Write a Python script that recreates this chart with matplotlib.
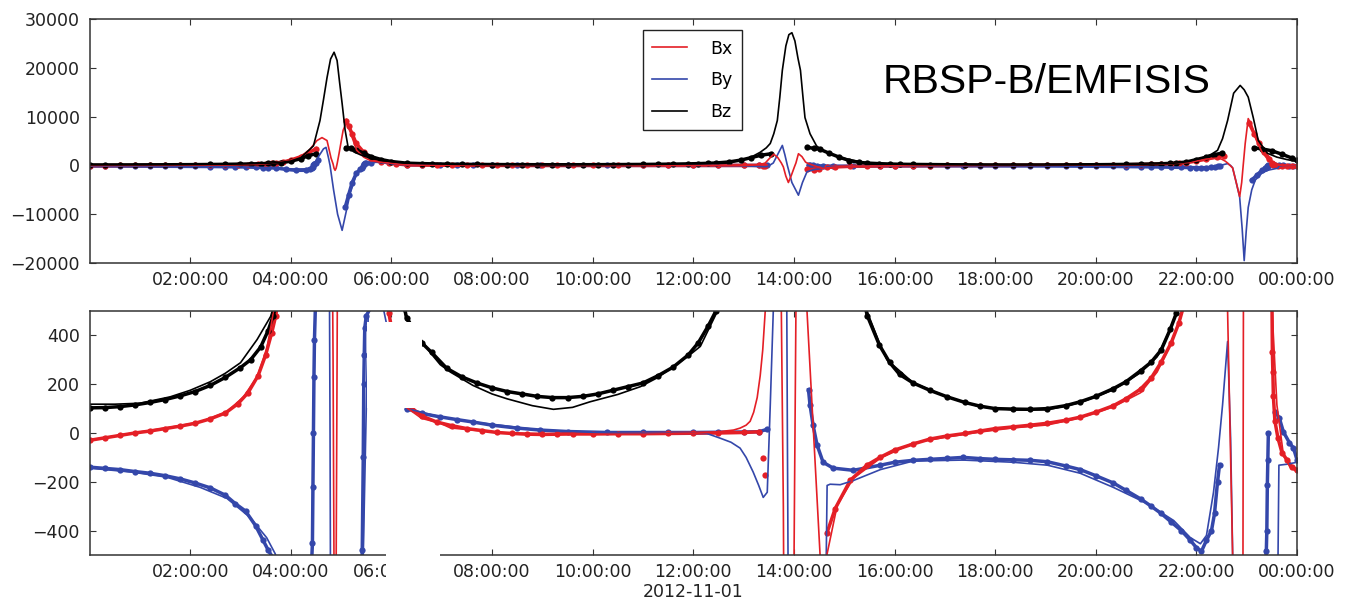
import numpy as np
import matplotlib.pyplot as plt
import matplotlib.dates as mdates
from matplotlib.patches import Rectangle

nan = np.nan

# Model field components (nT), time in hours after 2012-11-01 00:00
t_bx = [0.0, 0.87, 1.53, 2.2, 2.73, 3.06, 3.33, 3.52, 3.62, 3.8, 4.0, 4.2, 4.38, 4.52, 4.62,
        4.72, 4.8, 4.84, 4.86, 4.88, 4.9, 4.92, 4.96, 5.04, 5.12, 5.22, 5.31, 5.45, 5.58, 5.75,
        5.95, 6.1, 6.31, 6.6, 6.97, 7.17, 7.6, 8.3, 9.6, 11.0, 12.0, 12.5, 12.8, 12.93, 13.05,
        13.13, 13.2, 13.27, 13.33, 13.38, 13.43, 13.52, 13.6, 13.68, 13.75, 13.79, 13.84, 13.89,
        13.95, 14.01, 14.04, 14.09, 14.16, 14.23, 14.26, 14.39, 14.52, 14.59, 14.66, 14.86,
        15.18, 15.72, 16.37, 17.05, 17.7, 18.36, 19.04, 19.69, 20.35, 20.89, 21.22, 21.48,
        21.68, 21.85, 22.0, 22.2, 22.4, 22.5, 22.57, 22.62, 22.72, 22.78, 22.86, 22.9, 22.93,
        22.97, 23.03, 23.1, 23.2, 23.3, 23.42, 23.5, 23.6, 23.73, 23.86, 24.0]
bx = [-29, 0, 21, 45, 87, 148, 230, 342, 454, 700, 1100, 1800, 3300, 5100, 5700,
      5100, 1500, 300, -600, -1000, -600, 300, 2500, 7200, 9200, 5700, 3100, 1700, 1000, 700,
      500, 300, 103, 60, 40, 21, 12, 0, -5, -5, -2, 5, 12, 20, 32,
      48, 85, 145, 235, 340, 500, 1500, 2300, 1600, 500, -300, -2200, -3500,
      -2000, -300, 500, 2400, 1800, 700, 500, 0, -500, -620, -495, -297,
      -186, -103, -41, -16, 4, 21, 33, 62, 107, 165, 250, 360,
      470, 600, 900, 1300, 1500, 1300, 900, 500, -500, -3000, -6400, -3500, 0,
      4500, 9600, 8200, 5000, 2800, 1200, 520, 115, -91, -140, -160]

t_by = [0.0, 0.87, 1.53, 2.2, 2.73, 3.19, 3.52, 3.69, 3.9, 4.1, 4.3, 4.42, 4.48, 4.55, 4.65,
        4.7, 4.75, 4.78, 4.85, 4.93, 5.02, 5.1, 5.18, 5.31, 5.44, 5.49, 5.54, 5.7, 5.9, 6.1,
        6.31, 6.97, 7.62, 8.96, 10.29, 12.27, 12.53, 12.75, 12.93, 13.05, 13.19, 13.3, 13.39,
        13.47, 13.53, 13.59, 13.68, 13.77, 13.82, 13.87, 13.96, 14.09, 14.17, 14.26, 14.4,
        14.55, 14.64, 14.66, 14.72, 14.92, 15.18, 15.72, 16.37, 17.37, 18.36, 19.04, 19.69,
        20.35, 21.02, 21.55, 21.88, 22.08, 22.2, 22.34, 22.44, 22.52, 22.62, 22.68, 22.72,
        22.78, 22.86, 22.91, 22.95, 22.99, 23.03, 23.1, 23.17, 23.3, 23.41, 23.62, 23.64,
        23.8, 24.0]
by = [-144, -161, -181, -223, -268, -346, -429, -495, -650, -750, -700, -500, 500, 1800, 3400,
      3700, 1500, 0, -5000, -10000, -13300, -9500, -5700, -1640, -500, 0, 500, 650, 450, 250,
      100, 66, 45, 12, 0, -2, -21, -38, -62, -100, -160, -215, -264,
      -243, 115, 500, 2300, 4100, 2200, 0, -3500, -6100, -3500, -1300, -850,
      -650, -550, -215, -210, -212, -195, -150, -115, -111, -120, -132, -165,
      -223, -289, -359, -429, -454, -420, -243, -60, 115, 375, -21, -491,
      -3000, -6500, -13000, -19500, -13500, -8600, -5000, -3000, -1600, -1000, -560, -132,
      -128, -120]

t_bz = [0.0, 0.5, 1.0, 1.6, 2.0, 2.4, 2.7, 3.0, 3.33, 3.6, 3.8, 4.0, 4.2, 4.45, 4.58, 4.65,
        4.72, 4.79, 4.86, 4.92, 4.97, 5.02, 5.08, 5.14, 5.25, 5.38, 5.6, 5.84, 6.0, 6.25, 6.5,
        6.77, 6.97, 7.17, 7.62, 8.0, 8.3, 8.8, 9.22, 9.6, 9.95, 10.5, 10.95, 11.3, 11.6, 11.9,
        12.14, 12.47, 12.7, 12.93, 13.15, 13.33, 13.45, 13.53, 13.6, 13.67, 13.72, 13.77, 13.84,
        13.9, 13.96, 14.02, 14.08, 14.13, 14.18, 14.22, 14.32, 14.45, 14.6, 14.92, 15.2, 15.46,
        15.71, 15.85, 16.37, 17.05, 17.7, 18.36, 19.04, 19.69, 20.35, 20.89, 21.22, 21.48,
        21.62, 21.85, 22.1, 22.3, 22.42, 22.52, 22.62, 22.74, 22.87, 22.95, 23.03, 23.13,
        23.23, 23.41, 23.6, 23.8, 24.0]
bz = [118, 118, 122, 148, 175, 210, 245, 288, 383, 478, 620, 900, 1600, 4000, 9200, 13500,
      18000, 21800, 23200, 21500, 17000, 12700, 7200, 3700, 2800, 2200, 1400, 1000, 780, 500, 410,
      330, 280, 250, 195, 160, 140, 112, 97, 105, 128, 158, 190, 228, 272, 315,
      355, 495, 650, 1000, 1700, 2700, 3600, 4500, 6500, 9200, 14000, 19500, 24500,
      26800, 27200, 25500, 22000, 19500, 14000, 9800, 6500, 4000, 2900, 1640, 1000, 495,
      363, 300, 206, 148, 107, 95, 95, 124, 177, 247, 313, 425,
      507, 800, 1500, 2300, 3100, 5500, 9200, 14800, 16400, 15500, 14000, 9800,
      5100, 2500, 1700, 1200, 800]

# Measured field (nT); nan marks gaps in the record
t_bx_d = [0.0, 0.3, 0.6, 0.9, 1.2, 1.5, 1.8, 2.1, 2.4, 2.7, 2.95, 3.15, 3.35, 3.5, 3.62, 3.7,
          3.85, 4.0, 4.2, 4.35, 4.5, 4.55, 5.1, 5.15, 5.22, 5.3, 5.45, 5.6, 5.8, 5.95, 6.1,
          6.3, 6.6, 6.9, 7.2, 7.5, 7.8, 8.1, 8.4, 8.7, 9.0, 9.3, 9.6, 10.0, 10.5, 11.0, 11.5,
          12.0, 12.5, 13.0, 13.3, 13.35, 13.39, 13.41, 13.43, 13.45, 14.27, 14.4, 14.5, 14.58,
          14.66, 14.82, 15.12, 15.45, 15.72, 16.0, 16.37, 16.7, 17.05, 17.4, 17.7, 18.0, 18.36,
          18.7, 19.04, 19.4, 19.69, 20.0, 20.35, 20.6, 20.89, 21.1, 21.3, 21.5, 21.65, 21.8,
          22.0, 22.2, 22.4, 22.55, 22.6, 23.05, 23.15, 23.25, 23.35, 23.45, 23.5, 23.51, 23.52,
          23.53, 23.56, 23.62, 23.7, 23.8, 23.9, 24.0]
bx_d = [-30, -20, -10, 0, 8, 18, 28, 40, 58, 82, 120, 165, 235, 320, 410, 480,
        700, 1100, 1800, 2600, 3400, nan, 9200, 8000, 6500, 4500, 2700, 1500, 800, 490, 320,
        120, 70, 45, 30, 18, 10, 2, -2, -5, -6, -5, -4, -4, -3, -3, -2,
        -1, 0, 2, 5, nan, -103, nan, -173, nan, -800, -850, -800, nan,
        -408, -310, -194, -132, -99, -70, -45, -25, -12, -2, 8, 18, 25,
        32, 40, 52, 65, 85, 112, 140, 180, 225, 290, 370, 450, 560,
        900, 1300, 1700, 2000, nan, 8600, 6500, 4500, 2800, 1400, 600, 330, 250,
        150, 50, -20, -80, -110, -140, -150]

t_by_d = [0.0, 0.3, 0.6, 0.9, 1.2, 1.5, 1.8, 2.1, 2.4, 2.7, 2.9, 3.1, 3.3, 3.45, 3.55, 3.7,
          3.9, 4.1, 4.3, 4.38, 4.43, 4.44, 4.45, 4.46, 4.47, 4.5, 4.55, 4.6, 5.08, 5.15, 5.22,
          5.3, 5.38, 5.42, 5.44, 5.45, 5.46, 5.47, 5.5, 5.6, 5.7, 6.3, 6.6, 6.97, 7.3, 7.62,
          8.0, 8.5, 8.96, 9.5, 10.29, 11.0, 11.5, 12.0, 12.5, 13.0, 13.3, 13.47, 13.5, 14.29,
          14.32, 14.38, 14.46, 14.58, 14.78, 15.18, 15.72, 16.0, 16.37, 16.7, 17.05, 17.37, 17.7,
          18.0, 18.36, 18.7, 19.04, 19.4, 19.69, 20.0, 20.35, 20.6, 20.89, 21.1, 21.3, 21.5,
          21.7, 21.88, 22.0, 22.1, 22.2, 22.3, 22.36, 22.42, 22.46, 22.5, 23.1, 23.2, 23.3,
          23.36, 23.39, 23.4, 23.41, 23.42, 23.43, 23.45, 23.57, 23.65, 23.73, 23.85, 23.93, 24.0]
by_d = [-140, -145, -150, -158, -165, -175, -188, -205, -225, -255, -290, -320, -380, -440, -480, -530,
        -800, -1000, -1000, -700, -450, -220, 0, 230, 380, 600, 1200, nan, -8600, -6000, -3500,
        -1640, -800, -480, -100, 200, 320, 430, 480, 520, nan, 100, 80, 66, 55, 45,
        32, 20, 12, 6, 2, 2, 2, 2, 3, 4, 5, 15, nan, 177,
        115, 33, -49, -120, -144, -153, -132, -120, -112, -108, -104, -100, -105,
        -108, -110, -112, -118, -135, -150, -175, -205, -235, -270, -300, -330, -365,
        -400, -440, -470, -485, -440, -400, -330, -200, -130, nan, -3000, -2000, -1000,
        -600, -482, -400, -214, -111, 0, nan, 87, 60, 4, -40, -62, -110]

t_bz_d = [0.0, 0.3, 0.6, 0.9, 1.2, 1.5, 1.8, 2.1, 2.4, 2.7, 3.0, 3.2, 3.4, 3.55, 3.65, 3.8,
          4.0, 4.2, 4.35, 4.5, 4.55, 5.1, 5.2, 5.3, 5.45, 5.6, 5.8, 6.0, 6.3, 6.6, 6.8, 7.1,
          7.4, 7.7, 8.0, 8.3, 8.6, 8.9, 9.2, 9.5, 9.8, 10.1, 10.4, 10.7, 11.0, 11.3, 11.6, 11.9,
          12.1, 12.3, 12.45, 12.7, 12.95, 13.15, 13.35, 13.55, 13.6, 14.27, 14.4, 14.52, 14.7,
          14.9, 15.1, 15.3, 15.46, 15.7, 15.9, 16.1, 16.37, 16.7, 17.05, 17.4, 17.7, 18.0, 18.36,
          18.7, 19.04, 19.4, 19.69, 20.0, 20.35, 20.6, 20.89, 21.1, 21.3, 21.48, 21.6, 21.8,
          22.0, 22.2, 22.35, 22.5, 22.55, 23.15, 23.3, 23.5, 23.7, 23.9, 24.0]
bz_d = [103, 104, 108, 115, 125, 137, 152, 170, 195, 228, 268, 300, 352, 420, 480, 600,
        850, 1400, 2000, 2400, nan, 3600, 3500, 3200, 2500, 1800, 1200, 800, 470, 370, 330, 265,
        230, 205, 185, 170, 160, 150, 145, 145, 150, 160, 175, 190, 205, 235, 270, 320,
        370, 440, 500, 700, 1100, 1600, 2100, 2400, nan, 3700, 3500, 3300, 2500,
        1700, 1000, 620, 480, 360, 290, 240, 205, 175, 148, 125, 110, 100, 98,
        97, 100, 112, 128, 150, 182, 210, 255, 290, 340, 425, 490, 700,
        1200, 1700, 2200, 2500, nan, 3600, 3400, 3000, 2300, 1500, 1100]

day0 = mdates.date2num(np.datetime64('2012-11-01T00:00'))


def hrs(t):
    return day0 + np.asarray(t, dtype=float) / 24.0


red = '#e41f26'
blue = '#3447aa'

fig = plt.figure(figsize=(13.57, 5.99), dpi=100)
ax1 = fig.add_axes([0.0660, 0.5609, 0.8898, 0.4073])
ax2 = fig.add_axes([0.0660, 0.0735, 0.8898, 0.4073])

for ax in (ax1, ax2):
    ax.plot(hrs(t_by_d), by_d, color=blue, lw=2.5, marker='o', ms=4.5, mec='none')
    ax.plot(hrs(t_bx_d), bx_d, color=red, lw=2.5, marker='o', ms=4.5, mec='none')
    ax.plot(hrs(t_bz_d), bz_d, color='black', lw=2.5, marker='o', ms=4.5, mec='none')
    ax.plot(hrs(t_by), by, color=blue, lw=1.2, label='By')
    ax.plot(hrs(t_bx), bx, color=red, lw=1.2, label='Bx')
    ax.plot(hrs(t_bz), bz, color='black', lw=1.2, label='Bz')

    ax.set_xlim(hrs(0), hrs(24))
    ax.set_xticks(hrs(np.arange(2, 25, 2)))
    ax.xaxis.set_major_formatter(mdates.DateFormatter('%H:%M:%S'))
    ax.tick_params(direction='in', top=True, right=True, length=4.5, width=0.8,
                   labelsize=12.5, labelcolor='#222222', color='#333333')
    ax.tick_params(axis='x', pad=6)
    ax.tick_params(axis='y', pad=7)
    for sp in ax.spines.values():
        sp.set_color('#333333')
        sp.set_linewidth(1.1)

ax1.set_ylim(-20000, 30000)
ax1.set_yticks(np.arange(-20000, 30001, 10000))
ax2.set_ylim(-500, 500)
ax2.set_yticks(np.arange(-400, 401, 200))
ax2.set_xlabel('2012-11-01', fontsize=12.5, color='#222222', labelpad=1)

h, l = ax1.get_legend_handles_labels()
order = [1, 0, 2]
leg = ax1.legend([h[i] for i in order], [l[i] for i in order], loc='upper left',
                 bbox_to_anchor=(0.458, 0.955), fontsize=12.5, fancybox=False,
                 edgecolor='#222222', framealpha=1, borderpad=0.55, labelspacing=0.78,
                 handlelength=2.0, handletextpad=1.35, borderaxespad=0)
leg.get_frame().set_linewidth(1.0)

ax1.text(0.657, 0.697, 'RBSP-B/EMFISIS', transform=ax1.transAxes, fontsize=29.5,
         family='Liberation Sans', va='baseline', ha='left')

# blanked patches over the lower panel
fig.patches.append(Rectangle((367 / 1357, 1 - 408 / 599), 55 / 1357, 86 / 599,
                             transform=fig.transFigure, facecolor='white',
                             edgecolor='none', zorder=10))
fig.patches.append(Rectangle((386 / 1357, 0), 54 / 1357, 51 / 599,
                             transform=fig.transFigure, facecolor='white',
                             edgecolor='none', zorder=10))

fig.savefig('out.png', dpi=100)
